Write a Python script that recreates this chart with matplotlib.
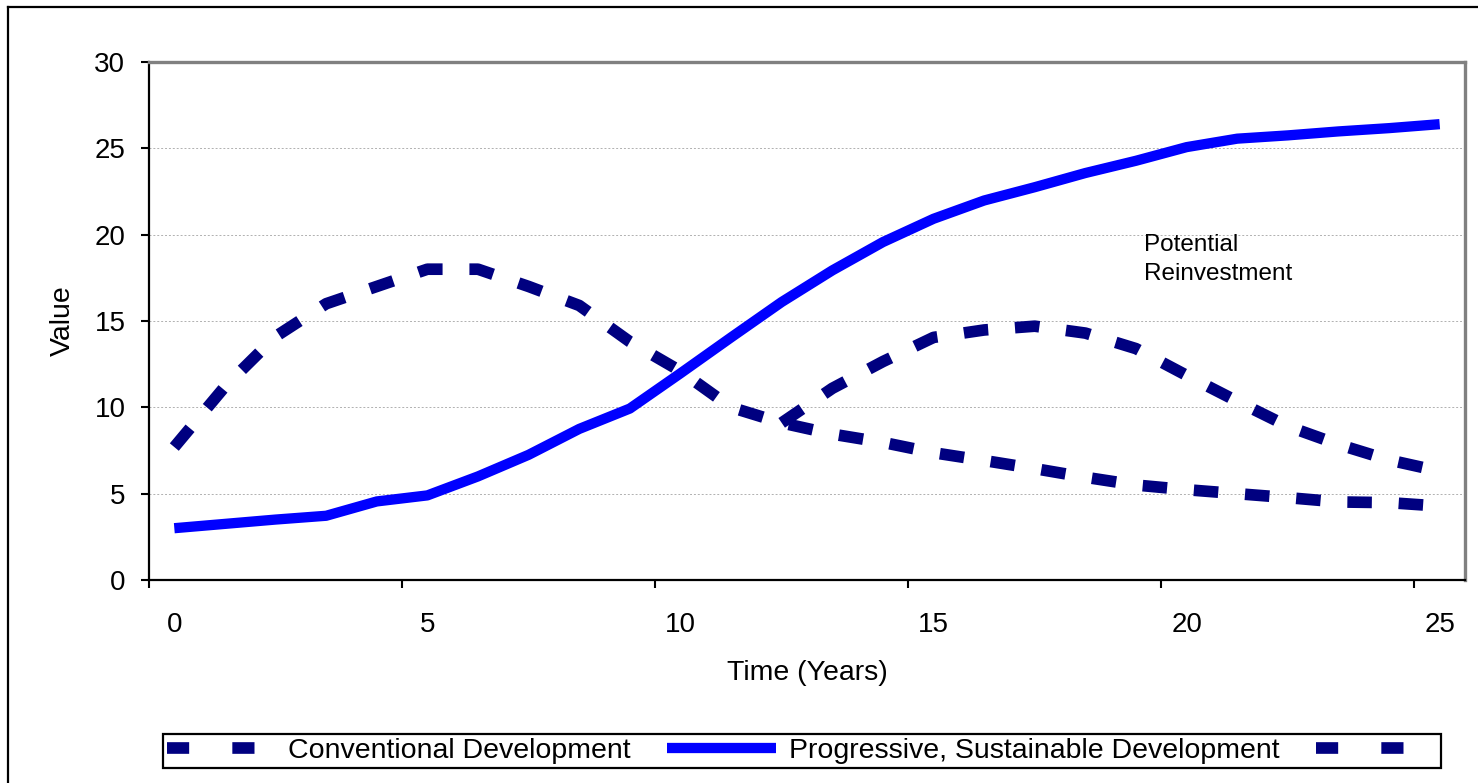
import matplotlib
matplotlib.use("Agg")
import matplotlib.pyplot as plt
from matplotlib.lines import Line2D
import numpy as np

# Years 0..25 (one value per year)
years = list(range(26))

conventional = [7.7, 11.2, 14.1, 16.0, 17.0, 18.0, 18.0, 17.0, 15.9, 13.8,
                12.1, 10.0, 9.1, 8.45, 7.97, 7.37, 6.92, 6.45, 5.95, 5.5,
                5.23, 5.0, 4.77, 4.52, 4.48, 4.28]

progressive = [3.0, 3.25, 3.5, 3.72, 4.55, 4.9, 6.0, 7.25, 8.75, 9.93,
               11.97, 14.05, 16.1, 17.93, 19.57, 20.92, 21.98, 22.75, 23.57, 24.28,
               25.07, 25.56, 25.75, 25.98, 26.17, 26.4]

# Reinvestment path branches off the conventional curve at year 12
reinvest_years = list(range(12, 26))
reinvestment = [9.1, 11.1, 12.65, 14.05, 14.48, 14.7, 14.3, 13.4, 11.85,
                10.35, 8.9, 7.85, 6.95, 6.3]

series_labels = ["Conventional Development",
                 "Progressive, Sustainable Development", ""]
xtick_labels = ["0", "5", "10", "15", "20", "25"]
ytick_values = [0, 5, 10, 15, 20, 25, 30]
annotation = "Potential\nReinvestment"

NAVY = "#000080"
BLUE = "#0000FF"
FONT = "Liberation Sans"

plt.rcParams["font.family"] = [FONT, "DejaVu Sans"]

W, H = 1478, 783
fig = plt.figure(figsize=(W / 100, H / 100), dpi=100)
L, R, T, B = 149, 1465, 62, 580
ax = fig.add_axes([L / W, 1 - B / H, (R - L) / W, (B - T) / H])

dash_lw = 8.4
dash_pat = (2.1, 2.3)

ax.plot(years, progressive, color=BLUE, lw=7.4, solid_joinstyle="round",
        solid_capstyle="butt", zorder=3)
ax.plot(years, conventional, color=NAVY, lw=dash_lw, dashes=dash_pat,
        dash_capstyle="butt", zorder=4)
ax.plot(reinvest_years, reinvestment, color=NAVY, lw=dash_lw, dashes=dash_pat,
        dash_capstyle="butt", zorder=4)

ax.set_xlim(-0.5, 25.5)
ax.set_ylim(0, 30)

# category-style axis: ticks on slot boundaries, labels on slot centres
ax.set_xticks(np.arange(-0.5, 25, 5))
ax.set_xticklabels([])
ax.set_xticks([int(s) for s in xtick_labels], minor=True)
ax.set_xticklabels(xtick_labels, minor=True, fontsize=20)
ax.tick_params(axis="x", which="major", direction="out", length=6, width=1.5)
ax.tick_params(axis="x", which="minor", length=0, pad=23)

ax.set_yticks(ytick_values)
ax.set_yticklabels([str(v) for v in ytick_values], fontsize=20)
ax.tick_params(axis="y", direction="out", length=6, width=1.5, pad=11)

ax.grid(axis="y", color="#b0b0b0", lw=0.7, ls=(0, (2, 2)))
ax.set_axisbelow(True)

for side in ("left", "bottom"):
    ax.spines[side].set_color("black")
    ax.spines[side].set_linewidth(1.6)
for side in ("top", "right"):
    ax.spines[side].set_color("#808080")
    ax.spines[side].set_linewidth(2.4)

ax.set_xlabel("Time (Years)", fontsize=20.5, va="center")
ax.xaxis.set_label_coords(0.5, (B - 673) / (B - T))
ax.set_ylabel("Value", fontsize=20.5, va="center")
ax.yaxis.set_label_coords((63 - L) / (R - L), 0.5)

ax.text(19.16, 20.05, annotation, fontsize=17.5, va="top", ha="left",
        linespacing=1.4, zorder=5)

# legend with proxy handles
handles = [
    Line2D([], [], color=NAVY, lw=dash_lw, dashes=(1.9, 3.7), dash_capstyle="butt"),
    Line2D([], [], color=BLUE, lw=7.4, solid_capstyle="butt"),
    Line2D([], [], color=NAVY, lw=dash_lw, dashes=(1.9, 3.7), dash_capstyle="butt"),
]
leg = fig.legend(handles, series_labels, ncol=3, mode="expand",
                 loc="center",
                 bbox_to_anchor=(163 / W, 1 - 772 / H, (1441 - 163) / W, 42 / H),
                 fontsize=20.5, frameon=True, fancybox=False,
                 edgecolor="black", framealpha=1, borderpad=0.15,
                 handlelength=3.8, handletextpad=0.45, columnspacing=0.6,
                 borderaxespad=0)
leg.get_frame().set_linewidth(1.6)

# outer chart border
fig.add_artist(Line2D([8 / W, 8 / W], [0, 1 - 7 / H], color="black", lw=1.6,
                      transform=fig.transFigure))
fig.add_artist(Line2D([8 / W, 1], [1 - 7 / H, 1 - 7 / H], color="black", lw=1.6,
                      transform=fig.transFigure))

fig.savefig("out.png", dpi=100, facecolor="white")
